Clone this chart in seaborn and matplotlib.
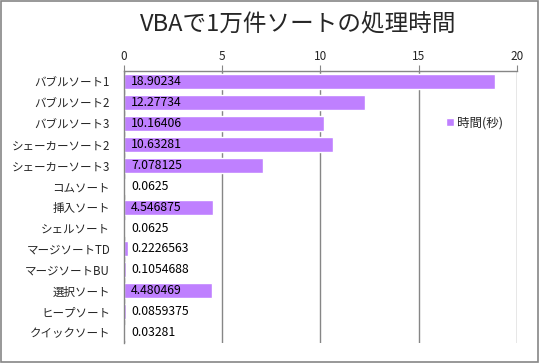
#!/usr/bin/env python3

# Import libraries
import pandas as pd
import matplotlib.pyplot as plt
import seaborn as sns
from matplotlib.patches import Rectangle

# Data
sorts = ["バブルソート1", "バブルソート2", "バブルソート3", "シェーカーソート2",
         "シェーカーソート3", "コムソート", "挿入ソート", "シェルソート",
         "マージソートTD", "マージソートBU", "選択ソート", "ヒープソート", "クイックソート"]
seconds = [18.90234, 12.27734, 10.16406, 10.63281, 7.078125, 0.0625, 4.546875,
           0.0625, 0.2226563, 0.1054688, 4.480469, 0.0859375, 0.03281]
value_text = ["18.90234", "12.27734", "10.16406", "10.63281", "7.078125", "0.0625",
              "4.546875", "0.0625", "0.2226563", "0.1054688", "4.480469", "0.0859375", "0.03281"]
xticks = [0, 5, 10, 15, 20]

df = pd.DataFrame({"sort": sorts, "sec": seconds})

sns.set_style("white")
plt.rcParams["font.family"] = ["Noto Sans CJK JP", "DejaVu Sans"]

fig = plt.figure(figsize=(5.4, 3.63), dpi=100)
ax = fig.add_axes([0.2296, 0.055, 0.7274, 0.749])

bar_color = "#BF80FF"
sns.barplot(data=df, y="sort", x="sec", orient="h", color=bar_color,
            width=0.72, label="時間(秒)", ax=ax, saturation=1)

# Axis setup (Excel-like: values on top)
ax.set_xlim(0, 20)
ax.set_ylim(len(sorts) - 0.5, -0.5)
ax.set_xticks(xticks)
ax.xaxis.tick_top()
ax.tick_params(axis="x", which="major", direction="out", length=4, color="#868686",
               labelsize=8.5, pad=2)
ax.set_xlabel("")
ax.set_ylabel("")
ax.grid(axis="x", color="#868686", linewidth=1)
ax.set_axisbelow(True)

# Category ticks at boundaries
ax.set_yticks(range(len(sorts)))
ax.set_yticklabels(sorts, fontsize=8.3)
ax.set_yticks([i + 0.5 for i in range(-1, len(sorts))], minor=True)
ax.tick_params(axis="y", which="major", length=0, pad=10)
ax.tick_params(axis="y", which="minor", length=4, color="#868686", direction="out")

for side in ["right", "bottom"]:
    ax.spines[side].set_visible(False)
for side in ["left", "top"]:
    ax.spines[side].set_color("#868686")
    ax.spines[side].set_linewidth(1)

# Value labels near the base of each bar
for i, txt in enumerate(value_text):
    ax.annotate(txt, xy=(0, i), xytext=(5, 0), textcoords="offset points",
                va="center", ha="left", fontsize=8.8, color="black")

# Title
fig.text(0.552, 0.935, "VBAで1万件ソートの処理時間", ha="center", va="center", fontsize=17)

# Legend
ax.legend(loc="center left", bbox_to_anchor=(0.79, 0.81), frameon=False,
          fontsize=9, handlelength=0.7, handleheight=0.7, handletextpad=0.2)

# Outer border
fig.patches.append(Rectangle((0.002, 0.003), 0.995, 0.993, transform=fig.transFigure,
                             fill=False, edgecolor="#868686", linewidth=1.2))

# Save figure
plt.savefig("out.png", dpi=100)
